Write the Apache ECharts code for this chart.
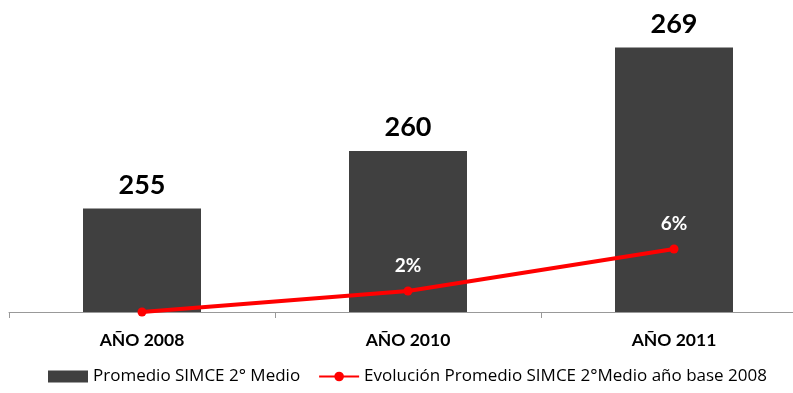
<!DOCTYPE html>
<html>
<head>
<meta charset="utf-8">
<script src="https://cdn.jsdelivr.net/npm/echarts@6/dist/echarts.min.js"></script>
<style>
  html, body { margin: 0; padding: 0; background: #fff; overflow: hidden; }
  #main { width: 810px; height: 393px; }
</style>
</head>
<body>
<div id="main"></div>
<script>
// datos
var categories = ['AÑO 2008', 'AÑO 2010', 'AÑO 2011'];
var promedio = [255, 260, 269];
var evolucion = [0, 2, 6];
var evolucionLabels = ['', '2%', '6%'];

var chart = echarts.init(document.getElementById('main'));
var font = 'Lato, "Open Sans", sans-serif';

// el eje se corta en el borde derecho, por eso el contenedor es mas ancho
var option = {
    animation: false,
    textStyle: { fontFamily: font },
    grid: { left: 9, right: 3, top: 13, height: 299 },
    legend: {
        bottom: 3,
        left: 43,
        itemGap: 18,
        itemWidth: 40,
        itemHeight: 12,
        textStyle: { fontSize: 17, color: '#000', fontFamily: '"Open Sans", sans-serif' },
        data: [
            { name: 'Promedio SIMCE 2° Medio', icon: 'rect' },
            { name: 'Evolución Promedio SIMCE 2°Medio año base 2008' }
        ]
    },
    xAxis: {
        type: 'category',
        data: categories,
        axisLine: { lineStyle: { color: '#999', width: 1 } },
        axisTick: { show: true, length: 6, lineStyle: { color: '#999' } },
        axisLabel: { color: '#000', fontWeight: 'bold', fontSize: 17.5, margin: 19 }
    },
    yAxis: [
        { type: 'value', min: 246, max: 272, show: false, splitLine: { show: false } },
        { type: 'value', min: 0, max: 28.5, show: false, splitLine: { show: false } }
    ],
    series: [
        {
            name: 'Promedio SIMCE 2° Medio',
            type: 'bar',
            data: promedio,
            barWidth: 118,
            itemStyle: { color: '#404040' },
            label: {
                show: true,
                position: 'top',
                distance: 10,
                color: '#000',
                fontWeight: 'bold',
                fontSize: 27
            }
        },
        {
            name: 'Evolución Promedio SIMCE 2°Medio año base 2008',
            type: 'line',
            yAxisIndex: 1,
            data: evolucion,
            symbol: 'circle',
            symbolSize: 9,
            lineStyle: { color: '#ff0000', width: 4 },
            itemStyle: { color: '#ff0000' },
            label: {
                show: true,
                position: 'top',
                distance: 11,
                color: '#fff',
                fontWeight: 'bold',
                fontSize: 19,
                formatter: function (p) { return evolucionLabels[p.dataIndex]; }
            }
        }
    ]
};

chart.setOption(option);
</script>
</body>
</html>
